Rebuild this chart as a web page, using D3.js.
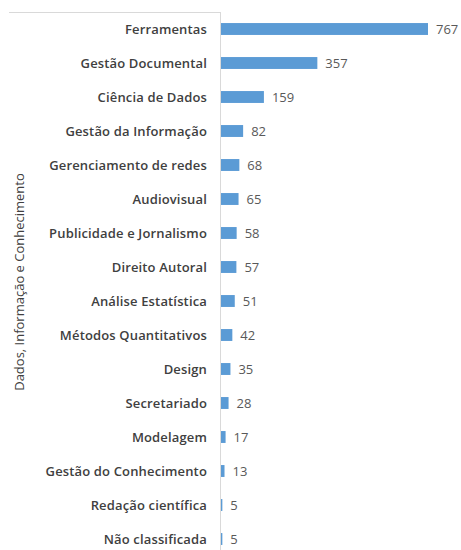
<!DOCTYPE html>
<html>
<head>
<meta charset="utf-8">
<script src="https://cdn.jsdelivr.net/npm/d3@7"></script>
<style>
  body { margin: 0; background: #fff; }
  svg { display: block; }
</style>
</head>
<body>
<script>
const categories = ["Ferramentas", "Gestão Documental", "Ciência de Dados", "Gestão da Informação",
  "Gerenciamento de redes", "Audiovisual", "Publicidade e Jornalismo", "Direito Autoral",
  "Análise Estatística", "Métodos Quantitativos", "Design", "Secretariado", "Modelagem",
  "Gestão do Conhecimento", "Redação científica", "Não classificada"];
const counts = [767, 357, 159, 82, 68, 65, 58, 57, 51, 42, 35, 28, 17, 13, 5, 5];
const axisTitle = "Dados, Informação e Conhecimento";

const width = 461, height = 550;
const x0 = 221, plotTop = 12;

const svg = d3.select('body').append('svg')
  .attr('width', width)
  .attr('height', height);

const x = d3.scaleLinear().domain([0, 767]).range([x0, 428]);
const y = d3.scaleBand().domain(categories).range([plotTop, plotTop + 34 * categories.length]).paddingInner(0.65).paddingOuter(0.325);

// frame top edge + axis line
svg.append('line')
  .attr('x1', 9).attr('x2', 220.5).attr('y1', 12.5).attr('y2', 12.5)
  .attr('stroke', '#d9d9d9');
svg.append('line')
  .attr('x1', 220.5).attr('x2', 220.5).attr('y1', 12).attr('y2', height)
  .attr('stroke', '#d9d9d9');

const rows = svg.selectAll('g.row')
  .data(categories)
  .enter().append('g')
  .attr('class', 'row');

rows.append('rect')
  .attr('x', x0)
  .attr('y', d => y(d))
  .attr('width', (d, i) => x(counts[i]) - x0)
  .attr('height', y.bandwidth())
  .attr('fill', '#5b9bd5');

rows.append('text')
  .attr('x', 207)
  .attr('y', d => y(d) + y.bandwidth() / 2)
  .attr('dy', '0.35em')
  .attr('text-anchor', 'end')
  .style('font-family', '"Open Sans", sans-serif')
  .style('font-size', '13px')
  .style('font-weight', 600)
  .style('letter-spacing', '0.15px')
  .style('fill', '#404040')
  .text(d => d);

rows.append('text')
  .attr('x', (d, i) => x(counts[i]) + 8)
  .attr('y', d => y(d) + y.bandwidth() / 2)
  .attr('dy', '0.35em')
  .style('font-family', '"Open Sans", sans-serif')
  .style('font-size', '13px')
  .style('fill', '#595959')
  .text((d, i) => counts[i]);

svg.append('text')
  .attr('transform', 'translate(24,282) rotate(-90)')
  .attr('text-anchor', 'middle')
  .style('font-family', '"Open Sans", sans-serif')
  .style('font-size', '13px')
  .style('fill', '#404040')
  .text(axisTitle);
</script>
</body>
</html>
